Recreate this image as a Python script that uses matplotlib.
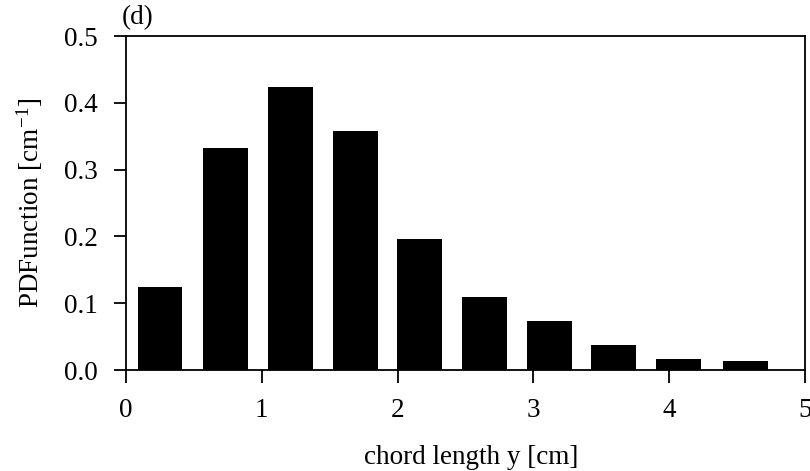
import matplotlib
matplotlib.use("Agg")
import matplotlib.pyplot as plt

plt.rcParams['font.family'] = ['Liberation Serif', 'DejaVu Serif']
plt.rcParams['mathtext.fontset'] = 'custom'
plt.rcParams['mathtext.rm'] = 'Liberation Serif'
plt.rcParams['mathtext.default'] = 'regular'

centers = [0.25, 0.73, 1.21, 1.69, 2.16, 2.64, 3.12, 3.59, 4.07, 4.56]
pdf_values = [0.125, 0.332, 0.423, 0.358, 0.196, 0.110, 0.074, 0.037, 0.017, 0.014]
xticks = [0, 1, 2, 3, 4, 5]
yticks = [0.0, 0.1, 0.2, 0.3, 0.4, 0.5]
ytick_labels = ['0.0', '0.1', '0.2', '0.3', '0.4', '0.5']

FS = 19.5
fig = plt.figure(figsize=(8.1, 4.71), dpi=100)
ax = fig.add_axes([126/810, 1-370/471, (805-126)/810, (370-36)/471])

ax.bar(centers, pdf_values, width=0.33, color='black', edgecolor='black', linewidth=0)
ax.set_xlim(0, 5)
ax.set_ylim(0, 0.5)
ax.set_xticks(xticks)
ax.set_xticklabels([str(t) for t in xticks])
ax.set_yticks(yticks)
ax.set_yticklabels(ytick_labels)
ax.tick_params(axis='both', direction='out', length=9, width=1.3, labelsize=FS)
ax.tick_params(axis='x', pad=11)
ax.tick_params(axis='y', pad=11)
for s in ax.spines.values():
    s.set_linewidth(1.3)

ax.set_xlabel('chord length y [cm]', fontsize=FS, labelpad=16)
ax.xaxis.label.set_x(0.508)
ax.set_ylabel(r'PDFunction [cm$^{-1}$]', fontsize=FS, labelpad=14)
fig.text(122/810, 1-18/471, '(d)', fontsize=FS, ha='left', va='center')

fig.savefig('out.png', dpi=100)
